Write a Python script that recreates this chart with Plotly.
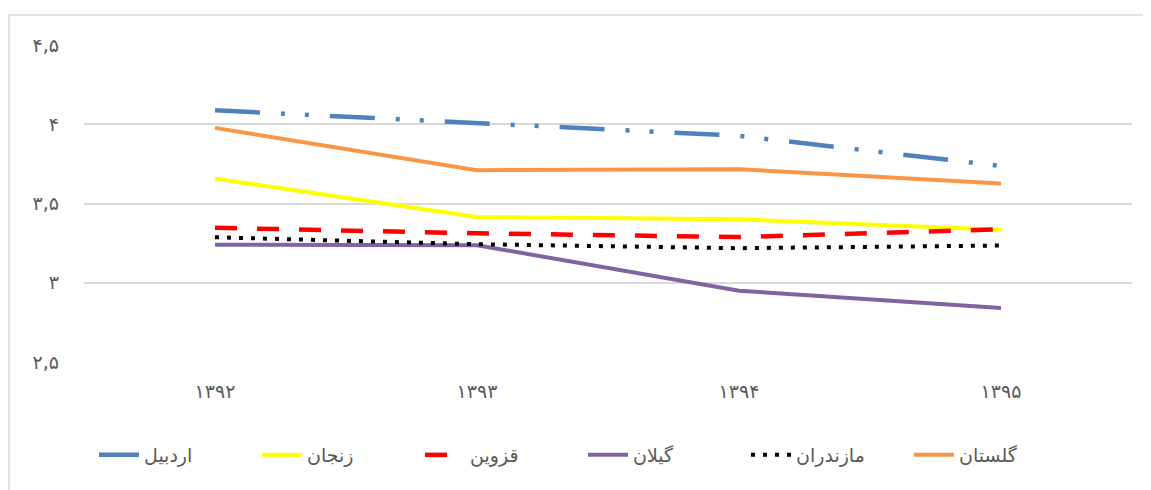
import plotly.graph_objects as go

years = ["۱۳۹۲", "۱۳۹۳", "۱۳۹۴", "۱۳۹۵"]
ardabil = [4.088, 4.006, 3.927, 3.737]
zanjan = [3.657, 3.415, 3.400, 3.335]
qazvin = [3.347, 3.312, 3.288, 3.337]
gilan = [3.240, 3.237, 2.950, 2.840]
mazandaran = [3.287, 3.243, 3.218, 3.235]
golestan = [3.977, 3.710, 3.716, 3.626]

y_tickvals = [2.5, 3, 3.5, 4, 4.5]
y_ticktext = ["۲,۵", "۳", "۳,۵", "۴", "۴,۵"]

series = [
    ("اردبیل", ardabil, "#4f81bd", "45px,21px,4px,20px,4px,21px", 4.5),
    ("زنجان", zanjan, "#ffff00", "solid", 4),
    ("قزوین", qazvin, "#ff0000", "22px,20px", 4.5),
    ("گیلان", gilan, "#8064a2", "solid", 4),
    ("مازندران", mazandaran, "#000000", "4px,8px", 4),
    ("گلستان", golestan, "#f79646", "solid", 4),
]

fig = go.Figure()
for name, vals, color, dash, w in series:
    fig.add_trace(go.Scatter(
        x=years, y=vals, name=name, mode="lines",
        line=dict(color=color, width=w, dash=dash),
    ))

# page body has an 8px margin, so the figure is drawn 8px smaller
W, H = 1143, 482
ml, mr, mt, mb = 76, 19, 37, 128
pw = W - ml - mr
ph = H - mt - mb

fig.add_shape(
    type="rect", xref="paper", yref="paper",
    x0=(1 - ml) / pw, x1=(W + 20 - ml) / pw,
    y0=(H - mb - (H + 20)) / ph, y1=(H - mb - 7) / ph,
    line=dict(color="#d9d9d9", width=1.5), fillcolor="rgba(0,0,0,0)", layer="below",
)

fig.update_layout(
    width=W, height=H,
    margin=dict(l=ml, r=mr, t=mt, b=mb, autoexpand=False),
    paper_bgcolor="white", plot_bgcolor="white",
    font=dict(family="DejaVu Sans, Arial, sans-serif", size=18, color="#595959"),
    showlegend=True,
    legend=dict(
        orientation="h", x=(92 - 6 - ml) / pw, xanchor="left",
        y=(H - mb - 447) / ph, yanchor="middle",
        font=dict(size=19, color="#595959"),
        itemwidth=40, entrywidth=108, entrywidthmode="pixels",
    ),
    xaxis=dict(
        type="category", showgrid=False, zeroline=False, showline=False,
        ticks="", ticklabelstandoff=16, tickfont=dict(size=19, color="#595959"),
        range=[-0.5, 3.5],
    ),
    yaxis=dict(
        range=[2.5, 4.5], tickvals=y_tickvals, ticktext=y_ticktext,
        showgrid=True, gridcolor="#d9d9d9", gridwidth=1.5,
        zeroline=False, showline=False, ticks="", ticklabelstandoff=24,
        tickfont=dict(size=19, color="#595959"),
    ),
)

fig.write_html("out.html")
